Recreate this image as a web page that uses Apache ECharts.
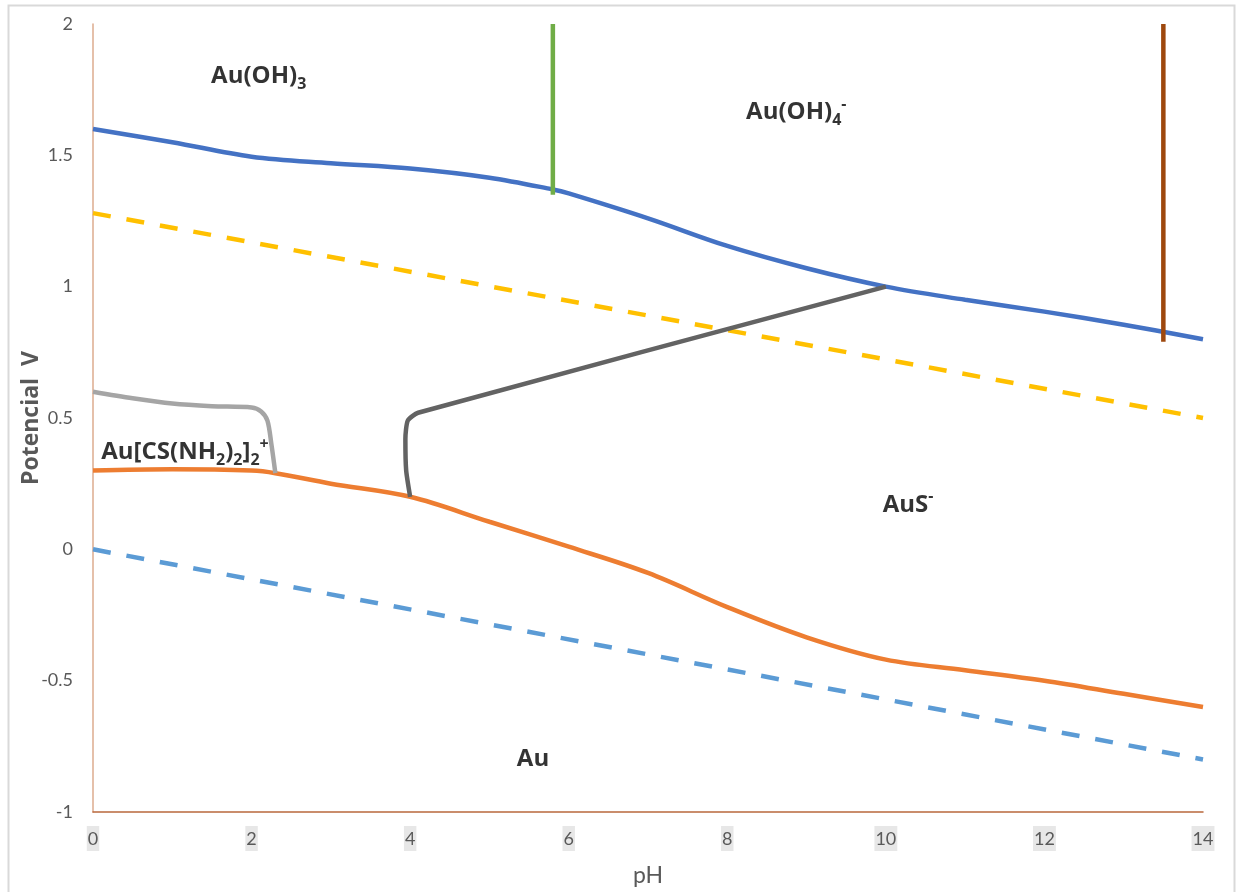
<!DOCTYPE html>
<html>
<head>
<meta charset="utf-8">
<title>Au Pourbaix</title>
<script src="https://cdn.jsdelivr.net/npm/echarts@6/dist/echarts.min.js"></script>
<style>
  html, body { margin: 0; padding: 0; background: #fff; }
  #chart { width: 1237px; height: 892px; }
</style>
</head>
<body>
<div id="chart"></div>
<script>
// pH / potential data
var xTicks = [0, 14, 2];          // min, max, interval
var yTicks = [-1, 2, 0.5];

var auOH3Line = [[0, 1.60], [1, 1.55], [2, 1.495], [3, 1.47], [4, 1.45], [5, 1.415], [5.8, 1.37],
  [6, 1.355], [7, 1.26], [8, 1.155], [9, 1.07], [10, 1.0], [11, 0.95], [12, 0.905], [13, 0.855], [14, 0.80]];
var thioLine = [[0, 0.30], [1, 0.305], [2, 0.30], [2.3, 0.29], [3, 0.25], [4, 0.20], [5, 0.105],
  [6, 0.01], [7, -0.09], [8, -0.22], [9, -0.335], [10, -0.42], [11, -0.46], [12, -0.50], [13, -0.55], [14, -0.60]];
var thioUpper = [[0, 0.60], [0.5, 0.575], [1, 0.555], [1.5, 0.545], [2, 0.54], [2.12, 0.525],
  [2.2, 0.49], [2.25, 0.40], [2.3, 0.29]];
var ausLine = [[4, 0.20], [3.95, 0.30], [3.94, 0.42], [3.97, 0.49], [4.1, 0.52], [10, 1.0]];
var o2Line = [[0, 1.28], [14, 0.50]];
var h2Line = [[0, 0.0], [14, -0.80]];
var greenLine = [[5.8, 2.0], [5.8, 1.35]];
var brownLine = [[13.5, 2.0], [13.5, 0.79]];

// region labels: [pH, V, rich text]
var regionLabels = [
  [2.09, 1.80, '{b|Au(OH)}{sub|3}'],
  [8.87, 1.665, '{b|Au(OH)}{sub|4}{sup|-}'],
  [1.16, 0.37, '{b|Au[CS(NH}{sub|2}{b|)}{sub|2}{b|]}{sub|2}{sup|+}'],
  [10.28, 0.17, '{b|AuS}{sup|-}'],
  [5.55, -0.80, '{b|Au}']
];

var FONT = 'Lato, "Open Sans", sans-serif';
var BOLD_FONT = '"Open Sans", "Noto Sans", sans-serif';

function lineSeries(data, color, smooth, dashed) {
  return {
    type: 'line',
    data: data,
    smooth: smooth,
    symbol: 'none',
    silent: true,
    z: 3,
    lineStyle: {
      color: color,
      width: 4.5,
      type: dashed ? [18, 16] : 'solid',
      cap: 'butt'
    }
  };
}

var chart = echarts.init(document.getElementById('chart'));

chart.setOption({
  animation: false,
  backgroundColor: '#fff',
  textStyle: { fontFamily: FONT },
  grid: { left: 93, right: 34, top: 24, bottom: 79, containLabel: false },
  graphic: [{
    type: 'rect',
    shape: { x: 8.5, y: 5.5, width: 1226, height: 900 },
    style: { fill: 'none', stroke: '#d9d9d9', lineWidth: 2 },
    silent: true
  }],
  xAxis: {
    type: 'value',
    min: xTicks[0], max: xTicks[1], interval: xTicks[2],
    name: 'pH',
    nameLocation: 'middle',
    nameGap: 52,
    nameTextStyle: { color: '#595959', fontSize: 23, fontFamily: FONT },
    axisLine: { onZero: false, lineStyle: { color: '#b9683c', width: 1.5 } },
    axisTick: { show: false },
    splitLine: { show: false },
    axisLabel: {
      color: '#595959', fontSize: 18, fontFamily: FONT, margin: 14,
      backgroundColor: '#e7e7e7', padding: [4, 1, 3, 1]
    }
  },
  yAxis: {
    type: 'value',
    min: yTicks[0], max: yTicks[1], interval: yTicks[2],
    name: 'Potencial  V',
    nameLocation: 'middle',
    nameGap: 50,
    nameMoveOverlap: false,
    nameTextStyle: { color: '#595959', fontSize: 23, fontWeight: 'bold', fontFamily: BOLD_FONT },
    axisLine: { show: true, onZero: false, lineStyle: { color: '#dcab8e', width: 1.5 } },
    axisTick: { show: false },
    splitLine: { show: false },
    axisLabel: { color: '#595959', fontSize: 18, fontFamily: FONT, margin: 20 }
  },
  series: [
    lineSeries(h2Line, '#5b9bd5', false, true),
    lineSeries(o2Line, '#ffc000', false, true),
    lineSeries(auOH3Line, '#4472c4', 0.35, false),
    lineSeries(thioLine, '#ed7d31', 0.35, false),
    lineSeries(thioUpper, '#a5a5a5', 0.3, false),
    lineSeries(ausLine, '#636363', 0.2, false),
    lineSeries(greenLine, '#70ad47', false, false),
    lineSeries(brownLine, '#9e480e', false, false),
    {
      type: 'scatter',
      symbolSize: 0,
      silent: true,
      z: 5,
      data: regionLabels.map(function (d) { return { value: [d[0], d[1]], txt: d[2] }; }),
      label: {
        show: true,
        position: 'inside',
        color: '#000',
        fontWeight: 'bold',
        fontFamily: BOLD_FONT,
        fontSize: 24,
        formatter: function (p) { return p.data.txt; },
        rich: {
          b: { fontSize: 24, fontWeight: 'bold', color: '#000', fontFamily: BOLD_FONT, lineHeight: 32, verticalAlign: 'middle' },
          sub: { fontSize: 16, fontWeight: 'bold', color: '#000', fontFamily: BOLD_FONT, lineHeight: 16, verticalAlign: 'bottom' },
          sup: { fontSize: 16, fontWeight: 'bold', color: '#000', fontFamily: BOLD_FONT, lineHeight: 16, verticalAlign: 'top' }
        }
      }
    }
  ]
});
</script>
</body>
</html>
